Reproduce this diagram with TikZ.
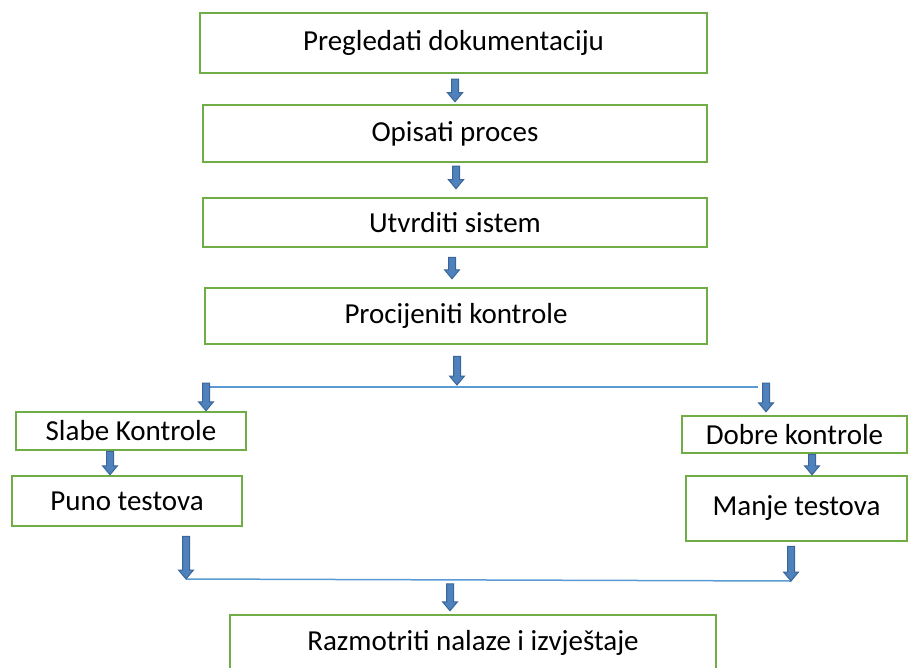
\documentclass[tikz,border=0pt]{standalone}
\usepackage{fontspec}
\setmainfont{Carlito}
\usetikzlibrary{calc}

\definecolor{boxgreen}{HTML}{70AD47}
\definecolor{arrowblue}{HTML}{4F81BD}
\definecolor{arrowedge}{HTML}{3A6598}
\definecolor{lineblue}{HTML}{5B9BD5}

\tikzset{
	stepbox/.style={draw=boxgreen, line width=2.5pt, fill=white, inner sep=0pt, font=\fontsize{29}{34}\selectfont},
	blockarr/.style={fill=arrowblue, draw=arrowedge, line width=1pt, line join=miter},
	joinline/.style={draw=lineblue, line width=1.5pt}
}

% block arrow pointing down: from #1 to the height of #2
\newcommand{\blockarrow}[2]{%
	\draw[blockarr] let \p1=(#1), \p2=(#2) in
		(\x1-3.5pt,\y1) -- (\x1+3.5pt,\y1) -- (\x1+3.5pt,\y2+9pt) -- (\x1+7.5pt,\y2+9pt)
		-- (\x1,\y2) -- (\x1-7.5pt,\y2+9pt) -- (\x1-3.5pt,\y2+9pt) -- cycle;}

\begin{document}
\begin{tikzpicture}[x=1pt, y=-1pt]
	\useasboundingbox (0,0) rectangle (909,668);

	\node[stepbox, minimum width=507pt, minimum height=60pt] (doc) at (453.5,43) {Pregledati dokumentaciju};
	\node[stepbox, minimum width=504pt, minimum height=57pt] (opis) at (455,133.5) {Opisati proces};
	\node[stepbox, minimum width=504pt, minimum height=49pt] (utvr) at (455,222.5) {Utvrditi sistem};
	\node[stepbox, minimum width=502pt, minimum height=56pt] (proc) at (456,316) {Procijeniti kontrole};
	\node[stepbox, minimum width=230pt, minimum height=38pt] (slabe) at (131,431) {Slabe Kontrole};
	\node[stepbox, minimum width=225pt, minimum height=37pt] (dobre) at (794.5,434.5) {Dobre kontrole};
	\node[stepbox, minimum width=230pt, minimum height=50pt] (puno) at (127,501) {Puno testova};
	\node[stepbox, minimum width=221pt, minimum height=65pt] (manje) at (796.5,508.5) {Manje testova};
	\node[stepbox, minimum width=486pt, minimum height=56pt] (razm) at (473,643) {Razmotriti nalaze i izvještaje};

	\coordinate (splitL) at (206,387);
	\coordinate (splitR) at (758,387);
	\coordinate (joinL) at (186,579);
	\coordinate (joinR) at (791,581);

	\draw[joinline] (splitL) -- (splitR);
	\draw[joinline] (joinL) -- (joinR);

	\blockarrow{$(doc.south)+(1.5,5)$}{$(opis.north)+(0,-2)$}
	\blockarrow{$(opis.south)+(1,3)$}{$(utvr.north)+(0,-8)$}
	\blockarrow{$(utvr.south)+(-3,9)$}{$(proc.north)+(0,-8)$}
	\blockarrow{$(proc.south)+(1,11)$}{$(splitL)+(0,-2)$}
	\blockarrow{$(splitL)+(0,-4)$}{slabe.north}
	\blockarrow{$(splitR)+(8,-4)$}{$(dobre.north)+(0,-3)$}
	\blockarrow{$(slabe.south)+(-21,0)$}{puno.north}
	\blockarrow{$(dobre.south)+(17.5,0)$}{manje.north}
	\blockarrow{$(puno.south)+(59,9)$}{joinL}
	\blockarrow{$(manje.south)+(-5.5,4)$}{joinR}
	\blockarrow{$(razm.north)+(-23,-30)$}{$(razm.north)+(0,-3)$}
\end{tikzpicture}
\end{document}
